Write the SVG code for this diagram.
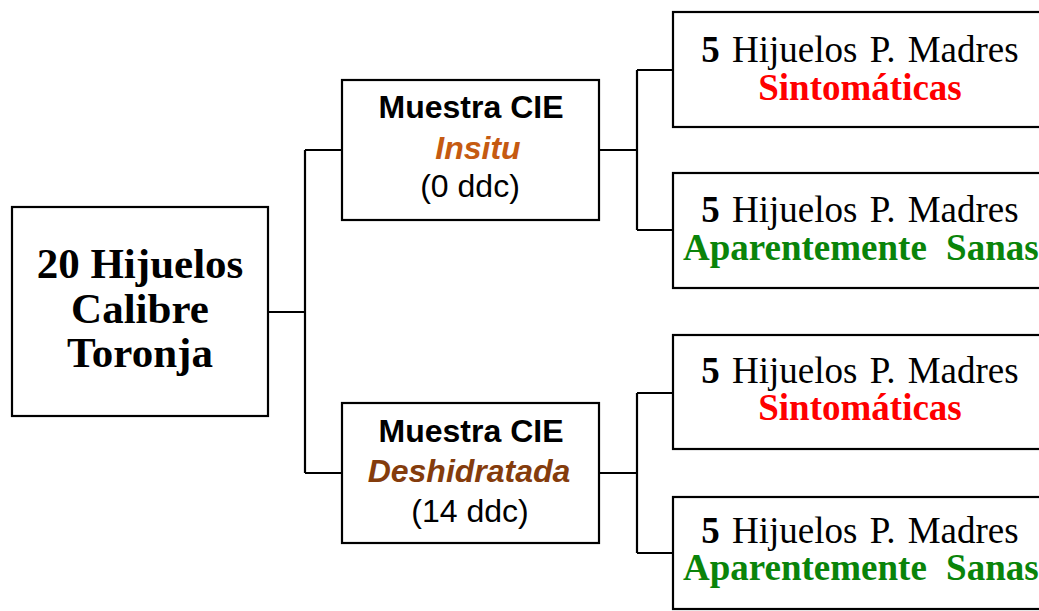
<svg xmlns="http://www.w3.org/2000/svg" width="1039" height="611" viewBox="0 0 1039 611">
<style>
.box{fill:#fff;stroke:#000;stroke-width:2.2}
.ln{fill:none;stroke:#000;stroke-width:2.2}
.serif{font-family:"Liberation Serif","Times New Roman",serif;fill:#000}
.sans{font-family:"Liberation Sans",Arial,sans-serif;fill:#000}
.big{font-size:43px;font-weight:bold}
.mid{font-size:32px}
.rt{font-size:37px}
</style>
<rect width="1039" height="611" fill="#fff"/>
<g id="connectors">
<path class="ln" d="M268,312 H305 M305,150 V473 M305,150 H342 M305,473 H342"/>
<path class="ln" d="M599,150 H637 M637,70 V230 M637,70 H673 M637,230 H673"/>
<path class="ln" d="M599,473 H637 M637,393 V553 M637,393 H673 M637,553 H673"/>
</g>
<g id="root">
<rect class="box" x="12" y="207" width="256" height="209"/>
<text class="serif big" text-anchor="middle" x="140" y="278">20 Hijuelos</text>
<text class="serif big" text-anchor="middle" x="140" y="323">Calibre</text>
<text class="serif big" text-anchor="middle" x="140" y="367">Toronja</text>
</g>
<g id="insitu">
<rect class="box" x="342" y="80" width="257" height="140"/>
<text class="sans mid" text-anchor="middle" x="471" y="118" font-weight="bold">Muestra CIE</text>
<text class="sans mid" text-anchor="middle" x="478" y="159" font-weight="bold" font-style="italic" style="fill:#C55A11">Insitu</text>
<text class="sans mid" text-anchor="middle" x="470" y="197">(0 ddc)</text>
</g>
<g id="deshidratada">
<rect class="box" x="342" y="403" width="257" height="140"/>
<text class="sans mid" text-anchor="middle" x="471" y="442" font-weight="bold">Muestra CIE</text>
<text class="sans mid" text-anchor="middle" x="469" y="482" font-weight="bold" font-style="italic" style="fill:#843C0C">Deshidratada</text>
<text class="sans mid" text-anchor="middle" x="470" y="522">(14 ddc)</text>
</g>
<g id="r1">
<rect class="box" x="673" y="12" width="380" height="115"/>
<text class="serif rt" text-anchor="middle" x="860" y="62" word-spacing="3"><tspan font-weight="bold">5</tspan> Hijuelos P. Madres</text>
<text class="serif rt" text-anchor="middle" x="860" y="100" font-weight="bold" style="fill:#FF0000">Sintomáticas</text>
</g>
<g id="r2">
<rect class="box" x="673" y="173" width="380" height="115"/>
<text class="serif rt" text-anchor="middle" x="860" y="222" word-spacing="3"><tspan font-weight="bold">5</tspan> Hijuelos P. Madres</text>
<text class="serif rt" x="683" y="260" font-weight="bold" style="fill:#0A840A" word-spacing="10">Aparentemente Sanas</text>
</g>
<g id="r3">
<rect class="box" x="673" y="335" width="380" height="114"/>
<text class="serif rt" text-anchor="middle" x="860" y="383" word-spacing="3"><tspan font-weight="bold">5</tspan> Hijuelos P. Madres</text>
<text class="serif rt" text-anchor="middle" x="860" y="420" font-weight="bold" style="fill:#FF0000">Sintomáticas</text>
</g>
<g id="r4">
<rect class="box" x="673" y="497" width="380" height="112"/>
<text class="serif rt" text-anchor="middle" x="860" y="543" word-spacing="3"><tspan font-weight="bold">5</tspan> Hijuelos P. Madres</text>
<text class="serif rt" x="683" y="580" font-weight="bold" style="fill:#0A840A" word-spacing="10">Aparentemente Sanas</text>
</g>
</svg>
